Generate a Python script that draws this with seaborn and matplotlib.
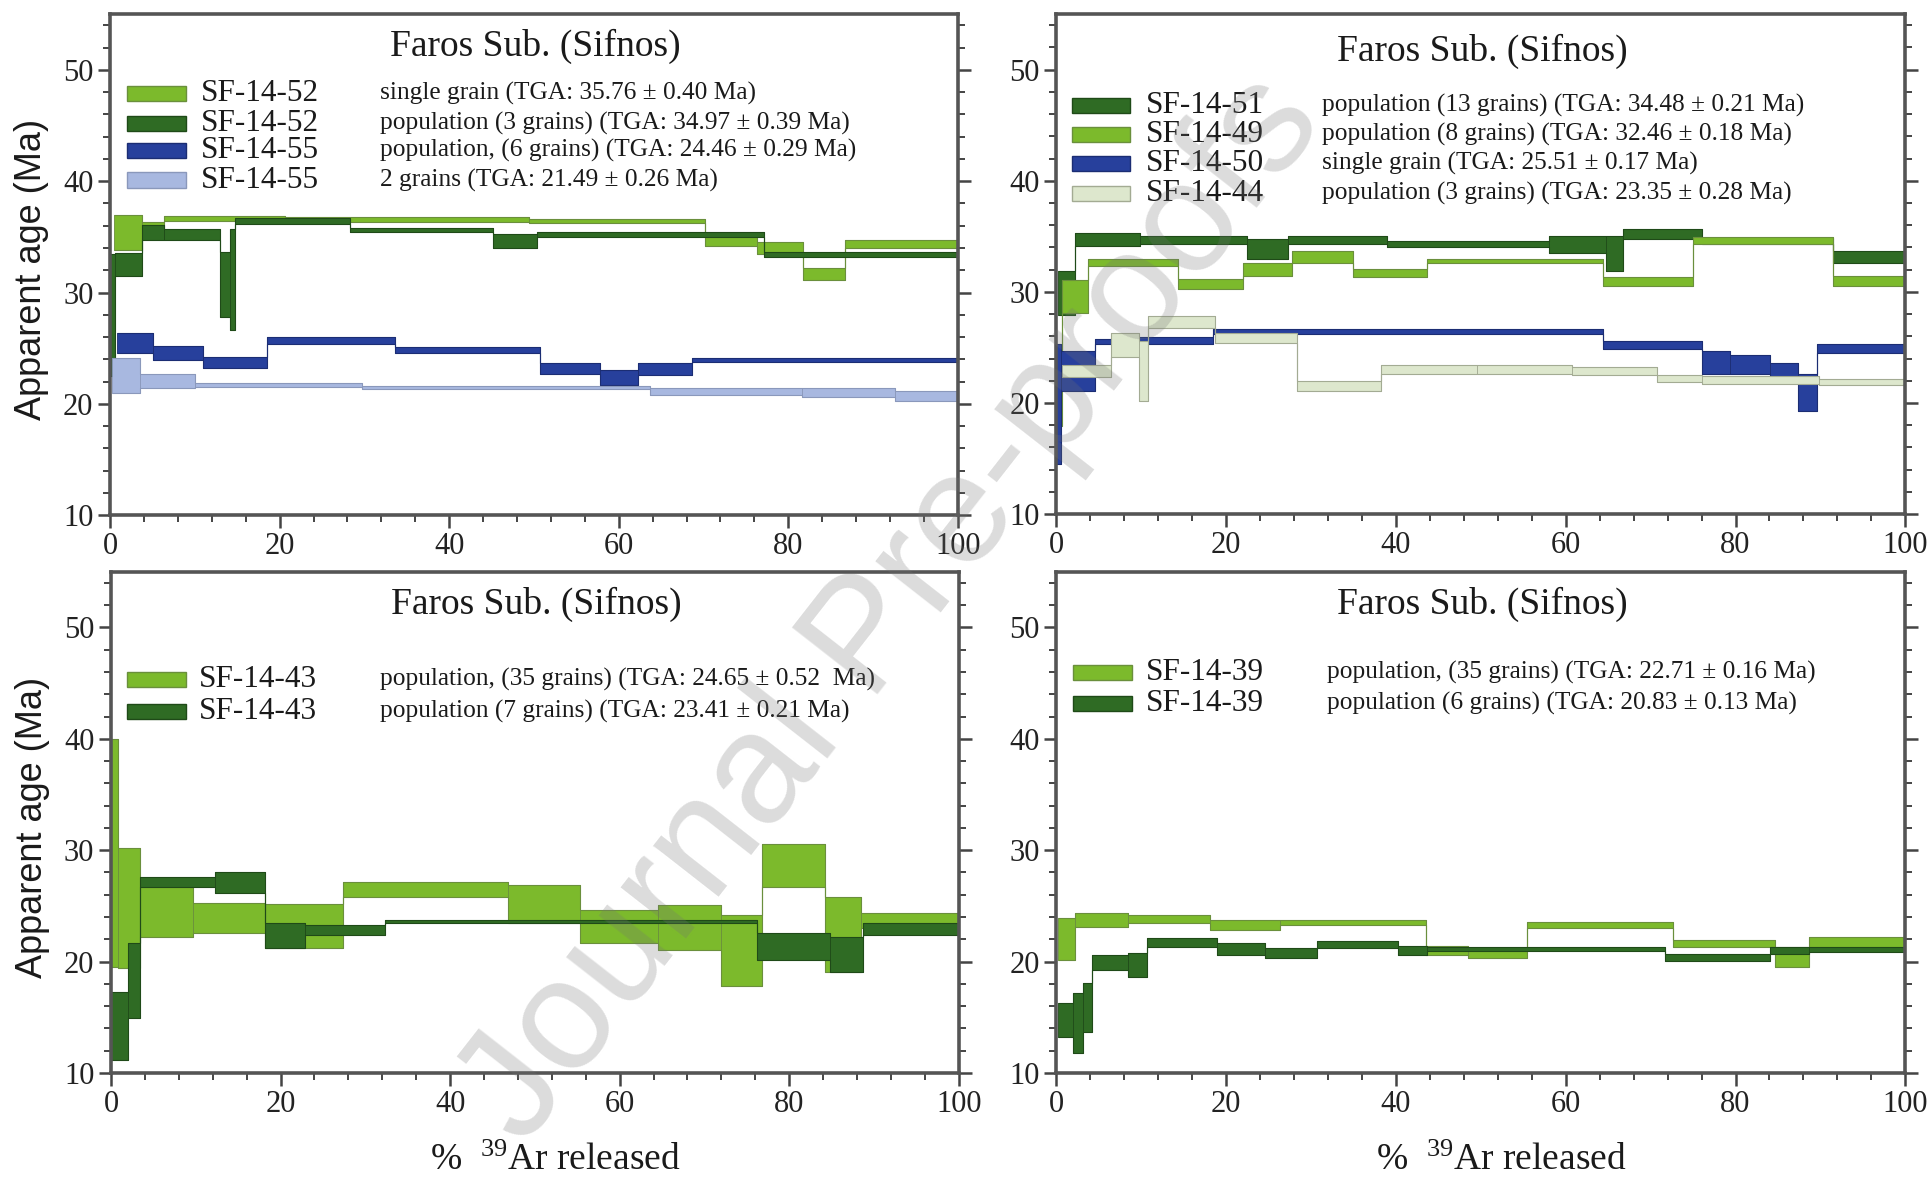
import numpy as np
import matplotlib
matplotlib.use('Agg')
import matplotlib.pyplot as plt
from matplotlib.patches import Rectangle
from matplotlib.ticker import MultipleLocator
import seaborn as sns

# ---------------- data (cumulative % 39Ar edges, age, error) ----------------
# top left
sf52_single_edges = [0.5, 3.8, 6.4, 20.6, 49.4, 70.2, 76.3, 81.7, 86.7, 100]
sf52_single_age = [35.4, 35.6, 36.65, 36.55, 36.4, 34.75, 34.0, 31.65, 34.35]
sf52_single_err = [1.6, 0.7, 0.2, 0.2, 0.2, 0.55, 0.5, 0.55, 0.35]

sf52_pop_edges = [0, 0.6, 3.8, 6.4, 12.97, 14.15, 14.74, 28.3, 45.2, 50.4, 77.2, 100]
sf52_pop_age = [28.0, 32.5, 35.4, 35.2, 30.7, 31.15, 36.4, 35.6, 34.65, 35.2, 33.4]
sf52_pop_err = [5.5, 1.05, 0.7, 0.5, 2.9, 4.55, 0.25, 0.2, 0.65, 0.2, 0.2]

sf55_pop_edges = [0.8, 5.1, 11.0, 18.5, 33.6, 50.7, 57.8, 62.3, 68.6, 100]
sf55_pop_age = [25.5, 24.55, 23.7, 25.7, 24.85, 23.2, 22.35, 23.15, 23.95]
sf55_pop_err = [0.9, 0.65, 0.5, 0.3, 0.25, 0.5, 0.65, 0.55, 0.15]

sf55_two_edges = [0.2, 3.5, 10.0, 29.7, 63.7, 81.6, 92.6, 100]
sf55_two_age = [22.55, 22.05, 21.7, 21.5, 21.1, 21.0, 20.75]
sf55_two_err = [1.55, 0.65, 0.2, 0.15, 0.3, 0.4, 0.45]

# top right
sf51_edges = [0.2, 2.2, 9.9, 22.5, 27.3, 39.0, 58.0, 64.7, 66.8, 76.1, 91.5, 100]
sf51_age = [29.9, 34.7, 34.65, 33.9, 34.65, 34.3, 34.25, 33.45, 35.2, 34.6, 33.15]
sf51_err = [2.0, 0.6, 0.35, 0.9, 0.35, 0.3, 0.75, 1.55, 0.45, 0.25, 0.55]

sf49_edges = [0.0, 0.7, 3.7, 14.3, 22.0, 27.8, 35.0, 43.7, 64.4, 75.0, 91.5, 100]
sf49_age = [21.3, 29.6, 32.65, 30.75, 32.0, 33.15, 31.7, 32.8, 30.9, 34.6, 30.95]
sf49_err = [3.4, 1.5, 0.35, 0.45, 0.6, 0.55, 0.4, 0.2, 0.4, 0.3, 0.45]

sf50_edges = [0.0, 0.6, 4.6, 6.6, 18.5, 64.4, 76.1, 79.4, 84.1, 87.4, 89.6, 100]
sf50_age = [19.9, 22.85, 25.55, 25.6, 26.45, 25.25, 23.65, 23.45, 22.9, 20.95, 24.9]
sf50_err = [5.4, 1.8, 0.25, 0.3, 0.25, 0.35, 1.05, 0.85, 0.7, 1.65, 0.4]

sf44_edges = [0.7, 6.5, 9.8, 10.8, 18.7, 28.4, 38.2, 49.5, 60.8, 70.8, 76.0, 89.8, 100]
sf44_age = [22.9, 25.2, 22.9, 27.3, 25.85, 21.55, 23.0, 23.0, 22.85, 22.2, 22.05, 21.9]
sf44_err = [0.55, 1.1, 2.7, 0.55, 0.45, 0.45, 0.4, 0.4, 0.35, 0.3, 0.35, 0.3]

# bottom left
sf43_35_edges = [0, 0.8, 3.4, 9.7, 18.2, 27.4, 46.8, 55.3, 64.5, 72.0, 76.8, 84.2, 88.5, 100]
sf43_35_age = [29.75, 24.8, 24.45, 23.95, 23.2, 26.45, 25.2, 23.15, 23.05, 21.0, 28.65, 22.45, 23.7]
sf43_35_err = [10.25, 5.4, 2.25, 1.35, 2.0, 0.65, 1.7, 1.45, 2.05, 3.2, 1.95, 3.35, 0.7]

sf43_7_edges = [0, 2.0, 3.4, 12.3, 18.2, 22.9, 32.3, 76.2, 84.8, 88.7, 100]
sf43_7_age = [14.25, 18.3, 27.15, 27.1, 22.35, 22.85, 23.6, 21.35, 20.65, 22.95]
sf43_7_err = [3.05, 3.4, 0.45, 0.9, 1.15, 0.45, 0.15, 1.25, 1.55, 0.55]

# bottom right
sf39_35_edges = [0.2, 2.2, 8.4, 18.1, 26.4, 43.5, 48.5, 55.4, 72.6, 84.7, 88.6, 100]
sf39_35_age = [22.0, 23.75, 23.8, 23.25, 23.5, 21.0, 20.75, 23.3, 21.6, 20.4, 21.6]
sf39_35_err = [1.9, 0.65, 0.35, 0.45, 0.2, 0.4, 0.45, 0.25, 0.3, 0.9, 0.6]

sf39_6_edges = [0.2, 2.0, 3.1, 4.2, 8.5, 10.7, 18.9, 24.6, 30.7, 40.3, 43.7, 71.7, 84.1, 88.6, 100]
sf39_6_age = [14.75, 14.5, 15.9, 19.9, 19.7, 21.7, 21.15, 20.75, 21.5, 21.0, 21.15, 20.35, 21.0, 21.1]
sf39_6_err = [1.55, 2.7, 2.2, 0.7, 1.1, 0.4, 0.55, 0.45, 0.3, 0.4, 0.2, 0.3, 0.3, 0.25]

# colours (fill, outline)
LIGHT = ('#7cba2c', '#6a8f3c')
DARK = ('#2f6b24', '#1f4a18')
BLUE = ('#27409c', '#1b2d73')
LBLUE = ('#a8b8e0', '#8a98bb')
PALE = ('#dde7cd', '#a3ab93')

TITLE = 'Faros Sub. (Sifnos)'

panels = [
    dict(rect=[0.057, 0.563, 0.439, 0.425], xlab=False, ylab=True,
         rows=[0.842, 0.782, 0.728, 0.669], sw_x=0.020, lab_x=0.107, desc_x=0.318, title_y=0.935,
         series=[
             ('SF-14-52', 'single grain (TGA: 35.76 \u00b1 0.40 Ma)', LIGHT, sf52_single_edges, sf52_single_age, sf52_single_err),
             ('SF-14-52', 'population (3 grains) (TGA: 34.97 \u00b1 0.39 Ma)', DARK, sf52_pop_edges, sf52_pop_age, sf52_pop_err),
             ('SF-14-55', 'population, (6 grains) (TGA: 24.46 \u00b1 0.29 Ma)', BLUE, sf55_pop_edges, sf55_pop_age, sf55_pop_err),
             ('SF-14-55', '2 grains (TGA: 21.49 \u00b1 0.26 Ma)', LBLUE, sf55_two_edges, sf55_two_age, sf55_two_err),
         ]),
    dict(rect=[0.547, 0.564, 0.4397, 0.424], xlab=False, ylab=False,
         rows=[0.818, 0.760, 0.702, 0.642], sw_x=0.018, lab_x=0.106, desc_x=0.313, title_y=0.925,
         series=[
             ('SF-14-51', 'population (13 grains) (TGA: 34.48 \u00b1 0.21 Ma)', DARK, sf51_edges, sf51_age, sf51_err),
             ('SF-14-49', 'population (8 grains) (TGA: 32.46 \u00b1 0.18 Ma)', LIGHT, sf49_edges, sf49_age, sf49_err),
             ('SF-14-50', 'single grain (TGA: 25.51 \u00b1 0.17 Ma)', BLUE, sf50_edges, sf50_age, sf50_err),
             ('SF-14-44', 'population (3 grains) (TGA: 23.35 \u00b1 0.28 Ma)', PALE, sf44_edges, sf44_age, sf44_err),
         ]),
    dict(rect=[0.0575, 0.090, 0.439, 0.425], xlab=True, ylab=True,
         rows=[0.786, 0.722], sw_x=0.019, lab_x=0.104, desc_x=0.317, title_y=0.935,
         series=[
             ('SF-14-43', 'population, (35 grains) (TGA: 24.65 \u00b1 0.52  Ma)', LIGHT, sf43_35_edges, sf43_35_age, sf43_35_err),
             ('SF-14-43', 'population (7 grains) (TGA: 23.41 \u00b1 0.21 Ma)', DARK, sf43_7_edges, sf43_7_age, sf43_7_err),
         ]),
    dict(rect=[0.547, 0.090, 0.4397, 0.425], xlab=True, ylab=False,
         rows=[0.800, 0.737], sw_x=0.020, lab_x=0.106, desc_x=0.319, title_y=0.935,
         series=[
             ('SF-14-39', 'population, (35 grains) (TGA: 22.71 \u00b1 0.16 Ma)', LIGHT, sf39_35_edges, sf39_35_age, sf39_35_err),
             ('SF-14-39', 'population (6 grains) (TGA: 20.83 \u00b1 0.13 Ma)', DARK, sf39_6_edges, sf39_6_age, sf39_6_err),
         ]),
]

sns.set_theme(style='ticks')
plt.rcParams['font.family'] = ['Liberation Serif', 'DejaVu Serif']
plt.rcParams['mathtext.fontset'] = 'custom'
plt.rcParams['mathtext.rm'] = 'Liberation Serif'
plt.rcParams['mathtext.it'] = 'Liberation Serif:italic'


def spectrum(ax, edges, age, err, colors):
    edges = np.asarray(edges, dtype=float)
    age = np.asarray(age, dtype=float)
    err = np.asarray(err, dtype=float)
    lo = age - err
    hi = age + err
    ax.bar(edges[:-1], hi - lo, width=np.diff(edges), bottom=lo, align='edge',
           color=colors[0], edgecolor=colors[1], linewidth=0.6)
    ax.stairs(hi, edges, baseline=None, color=colors[1], lw=0.8)
    ax.stairs(lo, edges, baseline=None, color=colors[1], lw=0.8)


fig = plt.figure(figsize=(19.31, 11.79), dpi=100)

for p in panels:
    ax = fig.add_axes(p['rect'])
    for lab, desc, col, e, a, s in p['series']:
        spectrum(ax, e, a, s, col)

    ax.set_xlim(0, 100)
    ax.set_ylim(10, 55)
    ax.xaxis.set_major_locator(MultipleLocator(20))
    ax.xaxis.set_minor_locator(MultipleLocator(4))
    ax.yaxis.set_minor_locator(MultipleLocator(2))
    ax.set_yticks([10, 20, 30, 40, 50])
    ax.tick_params(which='both', direction='out', right=True, top=False, color='#444444',
                   labelsize=22, labelcolor='#222222', pad=3)
    ax.tick_params(which='major', length=9, width=1.8)
    ax.tick_params(which='minor', length=5, width=1.4)
    for sp in ax.spines.values():
        sp.set_color('#555555')
        sp.set_linewidth(2.6)

    ax.text(0.502, p['title_y'], TITLE, transform=ax.transAxes, ha='center', va='center',
            fontsize=27, color='#1a1a1a')

    # legend rows: swatch, sample, description
    for (lab, desc, col, e, a, s), y in zip(p['series'], p['rows']):
        ax.add_patch(Rectangle((p['sw_x'], y - 0.015), 0.069, 0.030, transform=ax.transAxes,
                               facecolor=col[0], edgecolor=col[1], lw=1.0, zorder=5))
        ax.text(p['lab_x'], y, lab, transform=ax.transAxes, ha='left', va='center',
                fontsize=22.5, color='#1a1a1a')
        ax.text(p['desc_x'], y, desc, transform=ax.transAxes, ha='left', va='center',
                fontsize=18.3, color='#1a1a1a')

    if p['ylab']:
        ax.set_ylabel('Apparent age (Ma)', fontfamily='Liberation Sans', fontsize=26, color='#1a1a1a')
        ax.yaxis.set_label_coords(-0.072, 0.49)
    if p['xlab']:
        ax.set_xlabel(r'%  $\mathrm{^{39}}$Ar released', fontsize=27, color='#1a1a1a')
        ax.xaxis.set_label_coords(0.524, -0.14)

# journal watermark
fig.text(0.462, 0.483, 'Journal Pre-proofs', rotation=52, fontsize=114, color='0.45', alpha=0.25,
         ha='center', va='center', family='Liberation Sans', zorder=10)

fig.savefig('out.png', dpi=100, facecolor='white')
